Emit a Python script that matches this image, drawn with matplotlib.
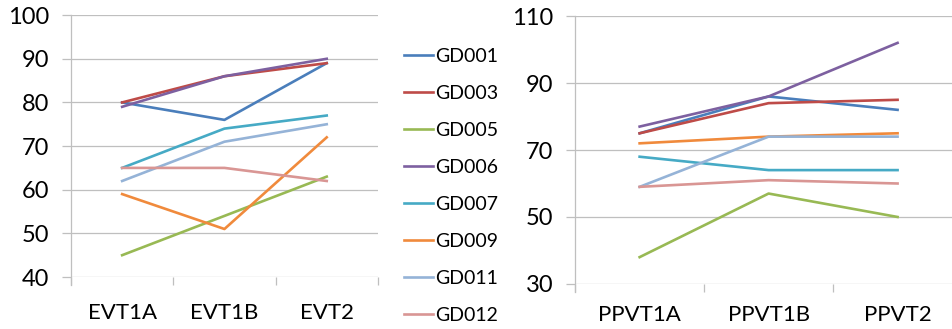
import matplotlib.pyplot as plt
import numpy as np

plt.rcParams['font.family'] = ['Lato', 'DejaVu Sans']

evt_cats = ['EVT1A', 'EVT1B', 'EVT2']
ppvt_cats = ['PPVT1A', 'PPVT1B', 'PPVT2']
names = ['GD001', 'GD003', 'GD005', 'GD006', 'GD007', 'GD009', 'GD011', 'GD012']
colors = ['#4A7EBB', '#BE4B48', '#98B954', '#7D60A0', '#46AAC5', '#F08A3C', '#95B3D7', '#D99694']

evt = [
    [80, 76, 89],
    [80, 86, 89],
    [45, 54, 63],
    [79, 86, 90],
    [65, 74, 77],
    [59, 51, 72],
    [62, 71, 75],
    [65, 65, 62],
]
ppvt = [
    [75, 86, 82],
    [75, 84, 85],
    [38, 57, 50],
    [77, 86, 102],
    [68, 64, 64],
    [72, 74, 75],
    [59, 74, 74],
    [59, 61, 60],
]

fig = plt.figure(figsize=(9.53, 3.29), dpi=100)
ax1 = fig.add_axes([0.0745, 0.158, 0.322, 0.796])
ax2 = fig.add_axes([0.6035, 0.137, 0.406, 0.814])

grid_c = '#BFBFBF'


def style(ax, cats, ylim, step, xpad):
    x = np.arange(len(cats)) + 0.5
    ax.set_xlim(0, len(cats))
    ax.set_ylim(*ylim)
    ax.set_yticks(np.arange(ylim[0], ylim[1] + 1, step))
    ax.set_xticks(x)
    ax.set_xticklabels(cats)
    ax.set_xticks(np.arange(len(cats) + 1), minor=True)
    ax.tick_params(axis='x', which='major', length=0, pad=xpad, labelsize=16)
    ax.tick_params(axis='x', which='minor', length=6, color=grid_c, width=0.9)
    ax.tick_params(axis='y', length=6.5, color=grid_c, width=0.9, pad=9, labelsize=17)
    ax.yaxis.grid(True, color=grid_c, linewidth=0.9)
    ax.set_axisbelow(True)
    for s in ['top', 'right', 'bottom']:
        ax.spines[s].set_visible(False)
    ax.spines['left'].set_color(grid_c)
    ax.spines['left'].set_linewidth(0.9)
    ax.spines['left'].set_bounds(ylim[0] - (ylim[1] - ylim[0]) * 0.03, ylim[1])
    return x


x1 = style(ax1, evt_cats, (40, 100), 10, 19)
for name, vals, c in zip(names, evt, colors):
    ax1.plot(x1, vals, color=c, linewidth=1.9, label=name, clip_on=False)

x2 = style(ax2, ppvt_cats, (30, 110), 20, 15)
for name, vals, c in zip(names, ppvt, colors):
    ax2.plot(x2, vals, color=c, linewidth=1.9, clip_on=False)

ax1.legend(loc='upper left', bbox_to_anchor=(1.06, 0.905), frameon=False,
           fontsize=14, handlelength=1.5, handletextpad=0.12,
           labelspacing=1.03, borderaxespad=0)

fig.savefig('out.png', dpi=100)
